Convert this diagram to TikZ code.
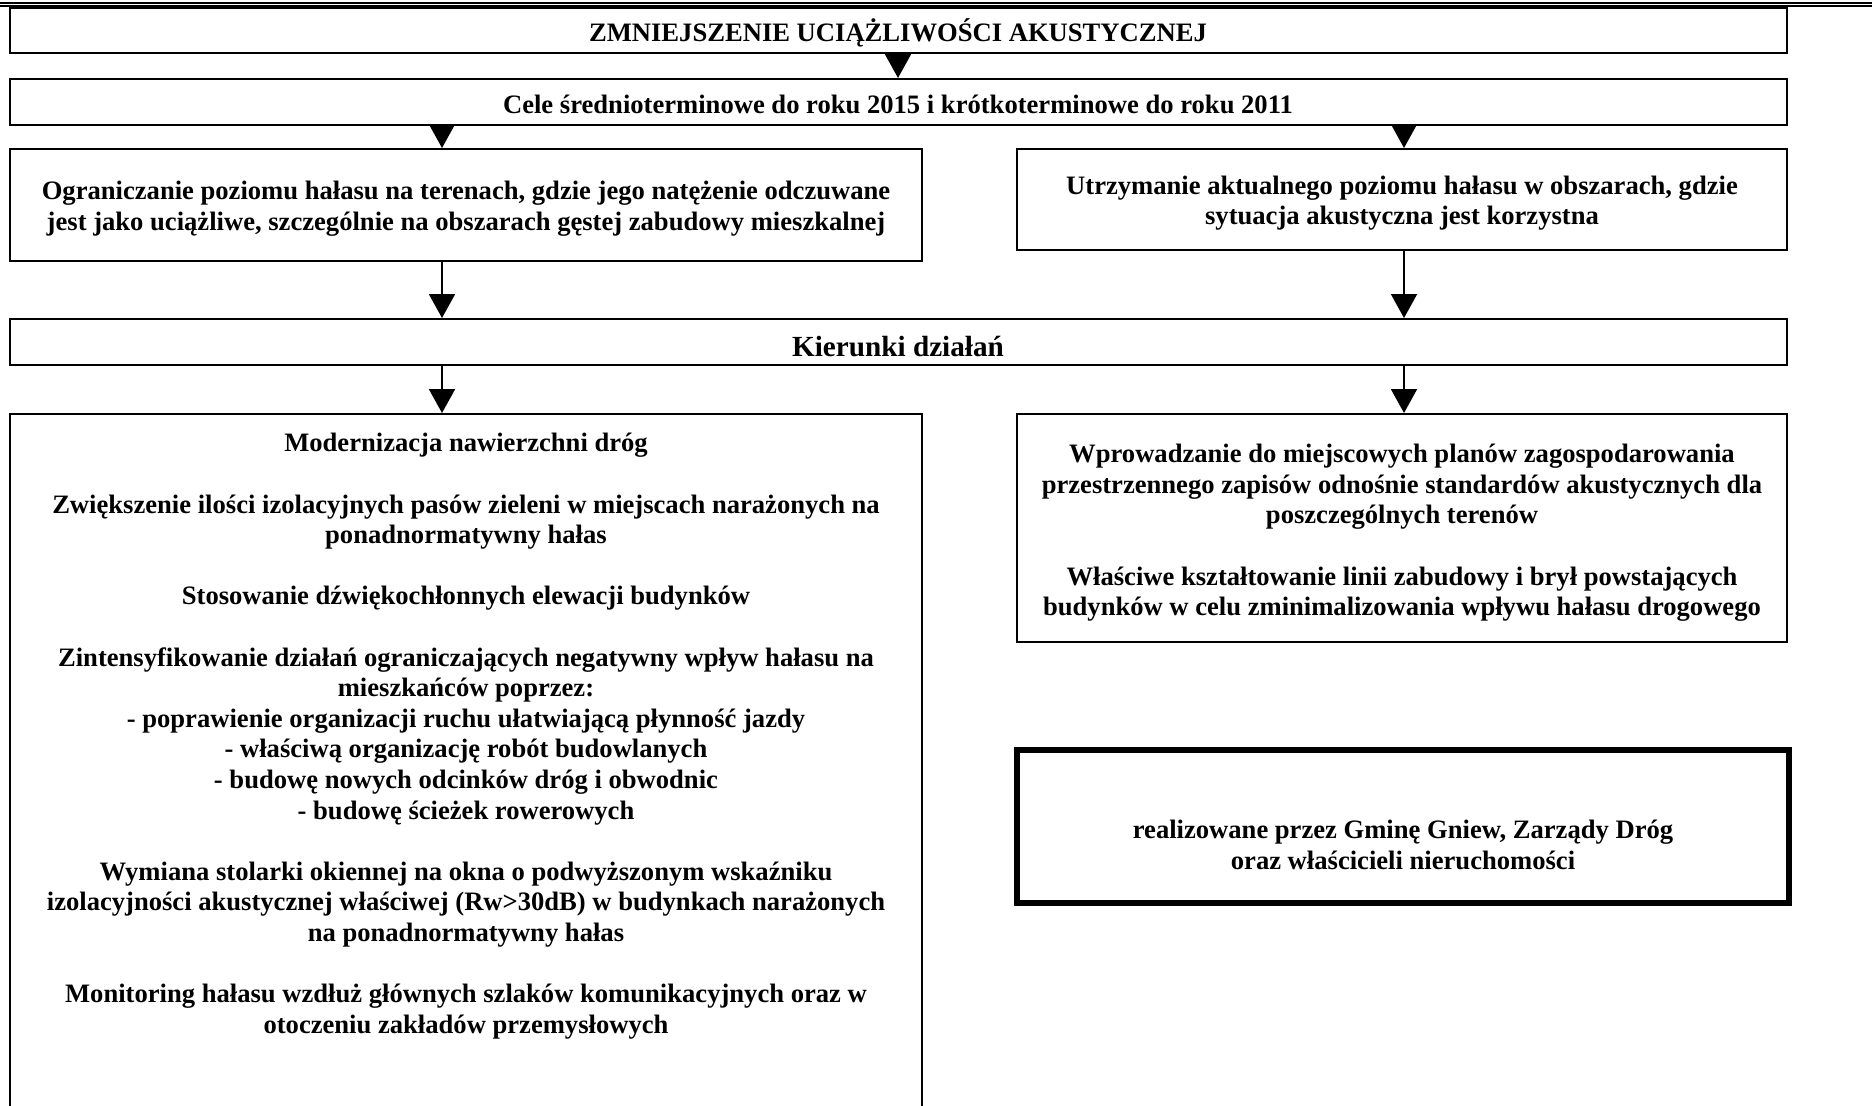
\documentclass[tikz,border=0pt]{standalone}
\usepackage{fontspec}
\setmainfont{Liberation Serif}
\usetikzlibrary{arrows.meta}

\tikzset{
  ramka/.style={draw, line width=1pt, inner sep=0pt},
  tekst/.style={align=center, inner sep=0pt,
    font=\fontsize{13.3}{15.3}\selectfont\bfseries},
  strzalka/.style={line width=1pt, -{Triangle[length=12pt,width=13pt]}},
}

\begin{document}
\begin{tikzpicture}[x=0.5pt,y=-0.5pt]
\useasboundingbox (0,0) rectangle (1872,1105);
\clip (0,0) rectangle (1872,1105);
% linie u gory strony
\draw[line width=0.7pt] (0,3) -- (1872,3);
\draw[line width=0.7pt] (0,6) -- (1872,6);

% ramki
\node[ramka, minimum width=888.5pt, minimum height=22.5pt] (cel) at (898,30.5) {};
\node[ramka, minimum width=888.5pt, minimum height=23pt] (cele) at (898,102) {};
\node[ramka, minimum width=456pt, minimum height=56pt] (celL) at (466,205) {};
\node[ramka, minimum width=385pt, minimum height=50.5pt] (celR) at (1402,199.5) {};
\node[ramka, minimum width=888.5pt, minimum height=23pt] (kier) at (898,342) {};
\node[ramka, minimum width=456pt, minimum height=360pt] (dzialL) at (466,774) {};
\node[ramka, minimum width=385pt, minimum height=114pt] (dzialR) at (1402,528) {};
\node[ramka, line width=3pt, minimum width=386pt, minimum height=76.5pt] (realiz) at (1403,826.5) {};

% teksty
\node[tekst] (celTxt) at ([yshift=-1.2pt]cel.center) {ZMNIEJSZENIE UCIĄŻLIWOŚCI AKUSTYCZNEJ};
\node[tekst] (celeTxt) at ([yshift=-1.2pt]cele.center) {Cele średnioterminowe do roku 2015 i krótkoterminowe do roku 2011};
\node[tekst] (celLTxt) at ([yshift=-1.8pt]celL.center) {Ograniczanie poziomu hałasu na terenach, gdzie jego natężenie odczuwane\\jest jako uciążliwe, szczególnie na obszarach gęstej zabudowy mieszkalnej};
\node[tekst] (celRTxt) at ([yshift=-1.8pt]celR.center) {Utrzymanie aktualnego poziomu hałasu w obszarach, gdzie\\sytuacja akustyczna jest korzystna};
\node[tekst, font=\fontsize{14.6}{16.8}\selectfont\bfseries] (kierTxt) at ([yshift=-2.2pt]kier.center) {Kierunki działań};
\node[tekst, anchor=north] (dzialLTxt) at (466,433) {Modernizacja nawierzchni dróg\\[15.3pt]
Zwiększenie ilości izolacyjnych pasów zieleni w miejscach narażonych na\\ponadnormatywny hałas\\[15.3pt]
Stosowanie dźwiękochłonnych elewacji budynków\\[15.3pt]
Zintensyfikowanie działań ograniczających negatywny wpływ hałasu na\\mieszkańców poprzez:\\
- poprawienie organizacji ruchu ułatwiającą płynność jazdy\\
- właściwą organizację robót budowlanych\\
- budowę nowych odcinków dróg i obwodnic\\
- budowę ścieżek rowerowych\\[15.3pt]
Wymiana stolarki okiennej na okna o podwyższonym wskaźniku\\izolacyjności akustycznej właściwej (Rw>30dB) w budynkach narażonych\\na ponadnormatywny hałas\\[15.3pt]
Monitoring hałasu wzdłuż głównych szlaków komunikacyjnych oraz w\\otoczeniu zakładów przemysłowych};
\node[tekst] (dzialRTxt) at ([yshift=-2.4pt]dzialR.center) {Wprowadzanie do miejscowych planów zagospodarowania\\przestrzennego zapisów odnośnie standardów akustycznych dla\\poszczególnych terenów\\[15.3pt]
Właściwe kształtowanie linii zabudowy i brył powstających\\budynków w celu zminimalizowania wpływu hałasu drogowego};
\node[tekst] (realizTxt) at ([yshift=-9.3pt]realiz.center) {realizowane przez Gminę Gniew, Zarządy Dróg\\oraz właścicieli nieruchomości};

% strzalki
\coordinate (lx) at (442,0);
\coordinate (rx) at (1404,0);
\draw[strzalka] (cel) -- (cele);
\draw[strzalka] (cele.south -| lx) -- (celL.north -| lx);
\draw[strzalka] (cele.south -| rx) -- (celR.north -| rx);
\draw[strzalka] (celL.south -| lx) -- (kier.north -| lx);
\draw[strzalka] (celR.south -| rx) -- (kier.north -| rx);
\draw[strzalka] (kier.south -| lx) -- (dzialL.north -| lx);
\draw[strzalka] (kier.south -| rx) -- (dzialR.north -| rx);
\end{tikzpicture}
\end{document}
